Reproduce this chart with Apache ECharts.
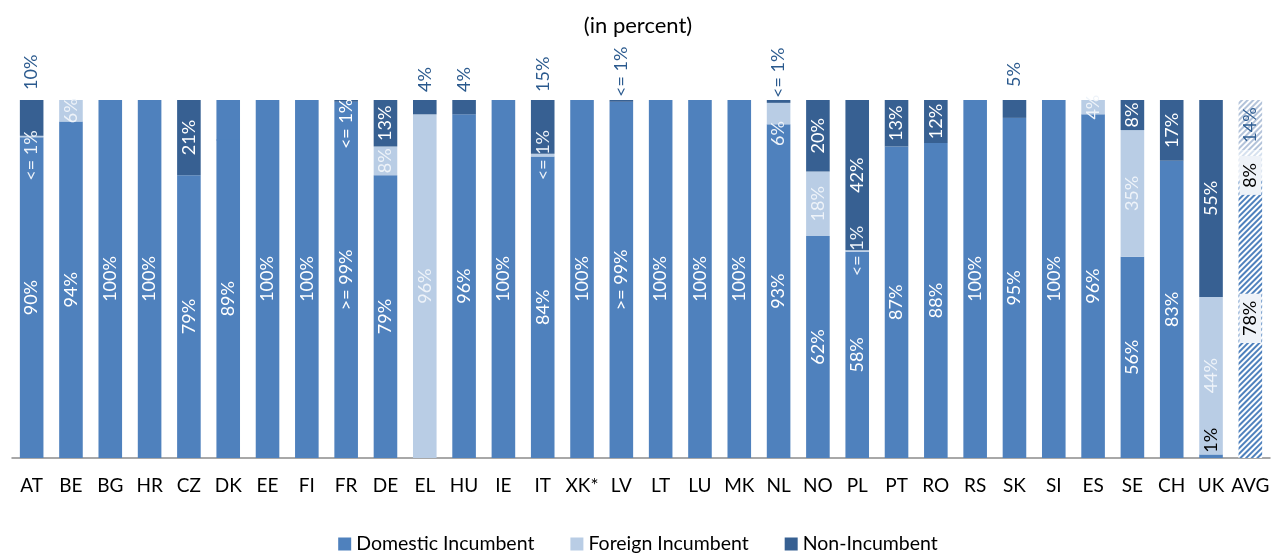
<!DOCTYPE html>
<html>
<head>
<meta charset="utf-8">
<script src="https://cdn.jsdelivr.net/npm/echarts@6/dist/echarts.min.js"></script>
<style>
  html, body { margin: 0; padding: 0; background: #fff; }
  #chart { width: 1276px; height: 554px; }
</style>
</head>
<body>
<div id="chart"></div>
<script>
// Market shares per country (in percent)
const categories = ['AT','BE','BG','HR','CZ','DK','EE','FI','FR','DE','EL','HU','IE','IT','XK*','LV','LT','LU','MK','NL','NO','PL','PT','RO','RS','SK','SI','ES','SE','CH','UK','AVG'];
const domestic     = [89.6, 94, 100, 100, 79, 89, 100, 100, 99.5, 79, 0, 96, 100, 84.2, 100, 99.5, 100, 100, 100, 93.2, 62, 57.6, 87, 88, 100, 95, 100, 96, 56.2, 83, 1, 78];
const foreign      = [0.4, 6, 0, 0, 0, 0, 0, 0, 0, 8, 96, 0, 0, 0.8, 0, 0, 0, 0, 0, 6, 18, 0.4, 0, 0, 0, 0, 0, 4, 35.4, 0, 44, 8];
const nonIncumbent = [10, 0, 0, 0, 21, 0, 0, 0, 0.5, 13, 4, 4, 0, 15, 0, 0.5, 0, 0, 0, 0.8, 20, 42, 13, 12, 0, 5, 0, 0, 8.4, 17, 55, 14];
// share not split by operator type (drawn in the domestic colour)
const unattributed = [0, 0, 0, 0, 0, 11, 0, 0, 0, 0, 0, 0, 0, 0, 0, 0, 0, 0, 0, 0, 0, 0, 0, 0, 0, 0, 0, 0, 0, 0, 0, 0];

const COLORS = { domestic: '#4F81BD', foreign: '#B9CDE5', nonIncumbent: '#376092' };
const FONT = 'Lato, "Open Sans", sans-serif';
const AVG_INDEX = categories.indexOf('AVG');
const BAR_RATIO = 0.6;

function pct(v) {
  if (!v) return '';
  if (v < 1) return '<= 1%';
  if (v > 99 && v < 100) return '>= 99%';
  return Math.round(v) + '%';
}

// labels placed above the bar ("above": gap in px) or nudged down the bar ("dy")
const labelTweaks = {
  'AT|nonIncumbent': { above: 10 },
  'AT|foreign': { dy: 19 },
  'FR|nonIncumbent': { dy: 23 },
  'EL|nonIncumbent': { above: 8 },
  'HU|nonIncumbent': { above: 8 },
  'IT|nonIncumbent': { above: 8 },
  'LV|nonIncumbent': { above: 3 },
  'NL|nonIncumbent': { above: 2 },
  'NL|foreign': { dy: 20 },
  'SK|nonIncumbent': { above: 13 },
  'UK|domestic': { dy: -16, color: '#000' },
  'AVG|foreign': { dy: 11 }
};

// hatched fill for the average bar
const avgStyle = {
  domestic:     { stripe: '#4F81BD', text: '#000', box: '#eef2f8' },
  foreign:      { stripe: '#d6e1ef', text: '#000', box: '#eef2f8' },
  nonIncumbent: { stripe: '#b3c3da', text: '#2f5e93', box: null }
};

function buildData(values, key) {
  return values.map((v, i) => {
    // empty shares get no mark at all
    if (!v) return '-';
    const item = { value: v };
    const tweak = labelTweaks[categories[i] + '|' + key];
    if (tweak) {
      if (tweak.above !== undefined) {
        item.label = { position: 'top', distance: tweak.above, align: 'left', verticalAlign: 'middle', color: '#2b5a8e' };
      } else {
        item.label = { offset: [-tweak.dy, 0] };
        if (tweak.color) item.label.color = tweak.color;
      }
    }
    if (i === AVG_INDEX) {
      const s = avgStyle[key];
      item.itemStyle = {
        color: '#ffffff',
        decal: {
          symbol: 'rect', symbolSize: 1, color: s.stripe,
          dashArrayX: [1, 0], dashArrayY: [2, 2], rotation: -Math.PI / 4
        }
      };
      item.label = Object.assign({}, item.label || {}, { color: s.text });
      if (s.box) {
        item.label.backgroundColor = s.box;
        item.label.padding = [2, 7];
      }
    }
    return item;
  });
}

function barSeries(name, key, values, labelColor) {
  return {
    name: name,
    type: 'bar',
    stack: 'share',
    barWidth: (BAR_RATIO * 100) + '%',
    itemStyle: { color: COLORS[key] },
    label: {
      show: true,
      position: 'inside',
      rotate: 90,
      color: labelColor,
      fontFamily: FONT,
      fontSize: 18,
      formatter: p => pct(p.value)
    },
    emphasis: { disabled: true },
    data: buildData(values, key)
  };
}

// unattributed share sits on top of the other three; drawn as a custom
// rectangle that overlaps the segment below by a pixel so no seam shows
const restData = [];
unattributed.forEach((v, i) => {
  if (v > 0) {
    const base = domestic[i] + foreign[i] + nonIncumbent[i];
    restData.push([i, base, base + v]);
  }
});

const chart = echarts.init(document.getElementById('chart'), null, { renderer: 'canvas' });
chart.setOption({
  animation: false,
  backgroundColor: '#ffffff',
  title: {
    text: '(in percent)',
    left: 'center',
    top: 10,
    textStyle: { fontFamily: FONT, fontSize: 22, fontWeight: 'normal', color: '#000' }
  },
  legend: {
    data: ['Domestic Incumbent', 'Foreign Incumbent', 'Non-Incumbent'],
    top: 529,
    left: 'center',
    icon: 'rect',
    itemWidth: 13,
    itemHeight: 13,
    itemGap: 36,
    textStyle: { fontFamily: FONT, fontSize: 19.5, color: '#000' }
  },
  grid: { left: 12, right: 6, top: 100, height: 358, outerBoundsMode: 'none' },
  xAxis: {
    type: 'category',
    data: categories,
    axisLine: { lineStyle: { color: '#8c8c8c', width: 1.5 } },
    axisTick: { length: 6, lineStyle: { color: '#8c8c8c', width: 1.5 } },
    axisLabel: { fontFamily: FONT, fontSize: 19, color: '#000', margin: 18, interval: 0 }
  },
  yAxis: {
    type: 'value', min: 0, max: 100, interval: 20, show: false
  },
  series: [
    barSeries('Domestic Incumbent', 'domestic', domestic, '#ffffff'),
    barSeries('Foreign Incumbent', 'foreign', foreign, '#eef3f9'),
    barSeries('Non-Incumbent', 'nonIncumbent', nonIncumbent, '#ffffff'),
    {
      name: 'unattributed',
      type: 'custom',
      silent: true,
      data: restData,
      encode: { x: 0, y: [1, 2] },
      renderItem: function (params, api) {
        const lo = api.coord([api.value(0), api.value(1)]);
        const hi = api.coord([api.value(0), api.value(2)]);
        const w = api.size([1, 0])[0] * BAR_RATIO;
        return {
          type: 'rect',
          shape: { x: lo[0] - w / 2, y: hi[1], width: w, height: lo[1] - hi[1] + 1 },
          style: { fill: COLORS.domestic }
        };
      }
    }
  ]
});
</script>
</body>
</html>
